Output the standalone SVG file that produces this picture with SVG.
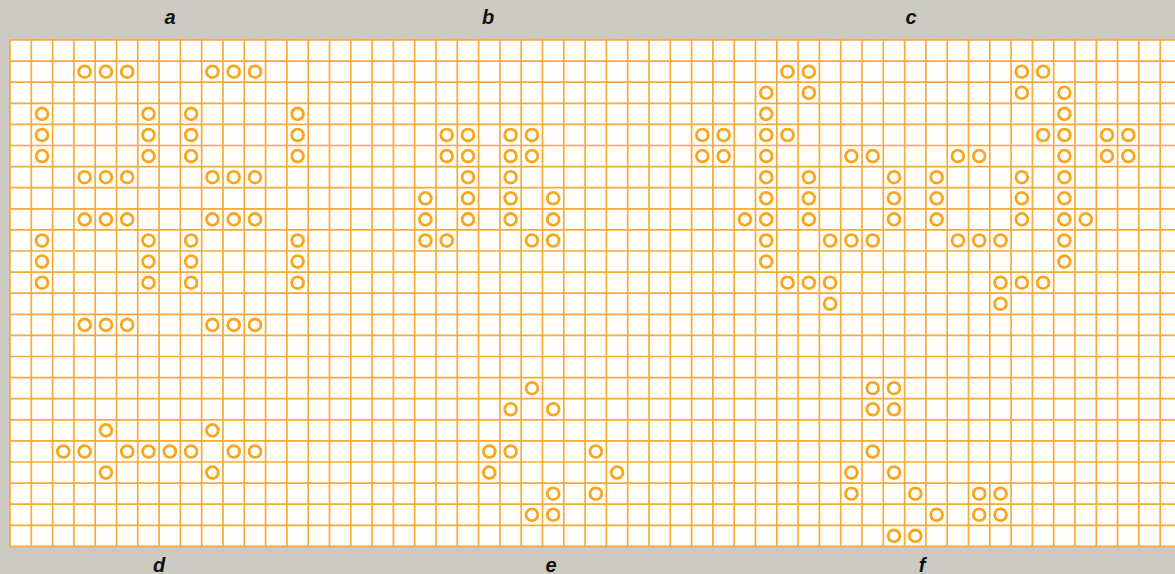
<svg xmlns="http://www.w3.org/2000/svg" xmlns:xlink="http://www.w3.org/1999/xlink" width="1175" height="574" viewBox="0 0 1175 574">
<style>
.grid{fill:none;stroke:#f6aa3c;stroke-width:1.7}
.cell{fill:none;stroke:#f9a61e;stroke-width:2.8}
.lbl{font-family:"Liberation Sans",Arial,sans-serif;font-weight:bold;font-style:italic;font-size:20px;fill:#111;text-anchor:middle}
</style>
<defs>
<circle id="o" class="cell" cx="0" cy="0" r="5.9"/>
<filter id="grain" x="0" y="0" width="100%" height="100%">
<feTurbulence type="fractalNoise" baseFrequency="0.9" numOctaves="2" seed="3" result="n"/>
<feColorMatrix in="n" type="matrix" values="0 0 0 0 0.70  0 0 0 0 0.69  0 0 0 0 0.64  0 0 0 0.6 0"/>
</filter>
</defs>
<rect id="background" x="0" y="0" width="1175" height="574" fill="#c8c6bd"/>
<rect x="0" y="0" width="1175" height="574" filter="url(#grain)" opacity="0.7"/>
<g id="board">
<rect x="10" y="40" width="1165" height="506.4" fill="#fffefa"/>
<path class="grid" d="M10 40V546.4M31.3 40V546.4M52.6 40V546.4M73.9 40V546.4M95.2 40V546.4M116.5 40V546.4M137.8 40V546.4M159.1 40V546.4M180.4 40V546.4M201.7 40V546.4M223 40V546.4M244.3 40V546.4M265.6 40V546.4M286.9 40V546.4M308.2 40V546.4M329.5 40V546.4M350.8 40V546.4M372.1 40V546.4M393.4 40V546.4M414.7 40V546.4M436 40V546.4M457.3 40V546.4M478.6 40V546.4M499.9 40V546.4M521.2 40V546.4M542.5 40V546.4M563.8 40V546.4M585.1 40V546.4M606.4 40V546.4M627.7 40V546.4M649 40V546.4M670.3 40V546.4M691.6 40V546.4M712.9 40V546.4M734.2 40V546.4M755.5 40V546.4M776.8 40V546.4M798.1 40V546.4M819.4 40V546.4M840.7 40V546.4M862 40V546.4M883.3 40V546.4M904.6 40V546.4M925.9 40V546.4M947.2 40V546.4M968.5 40V546.4M989.8 40V546.4M1011.1 40V546.4M1032.4 40V546.4M1053.7 40V546.4M1075 40V546.4M1096.3 40V546.4M1117.6 40V546.4M1138.9 40V546.4M1160.2 40V546.4"/>
<path class="grid" d="M10 40H1175M10 61.1H1175M10 82.2H1175M10 103.3H1175M10 124.4H1175M10 145.5H1175M10 166.6H1175M10 187.7H1175M10 208.8H1175M10 229.9H1175M10 251H1175M10 272.1H1175M10 293.2H1175M10 314.3H1175M10 335.4H1175M10 356.5H1175M10 377.6H1175M10 398.7H1175M10 419.8H1175M10 440.9H1175M10 462H1175M10 483.1H1175M10 504.2H1175M10 525.3H1175M10 546.4H1175"/>
</g>
<g id="pattern-a">
<use xlink:href="#o" x="84.6" y="71.7"/><use xlink:href="#o" x="105.9" y="71.7"/><use xlink:href="#o" x="127.2" y="71.7"/>
<use xlink:href="#o" x="212.4" y="71.7"/><use xlink:href="#o" x="233.7" y="71.7"/><use xlink:href="#o" x="255" y="71.7"/>
<use xlink:href="#o" x="42" y="113.9"/><use xlink:href="#o" x="148.5" y="113.9"/><use xlink:href="#o" x="191.1" y="113.9"/><use xlink:href="#o" x="297.6" y="113.9"/>
<use xlink:href="#o" x="42" y="135"/><use xlink:href="#o" x="148.5" y="135"/><use xlink:href="#o" x="191.1" y="135"/><use xlink:href="#o" x="297.6" y="135"/>
<use xlink:href="#o" x="42" y="156.1"/><use xlink:href="#o" x="148.5" y="156.1"/><use xlink:href="#o" x="191.1" y="156.1"/><use xlink:href="#o" x="297.6" y="156.1"/>
<use xlink:href="#o" x="84.6" y="177.2"/><use xlink:href="#o" x="105.9" y="177.2"/><use xlink:href="#o" x="127.2" y="177.2"/>
<use xlink:href="#o" x="212.4" y="177.2"/><use xlink:href="#o" x="233.7" y="177.2"/><use xlink:href="#o" x="255" y="177.2"/>
<use xlink:href="#o" x="84.6" y="219.4"/><use xlink:href="#o" x="105.9" y="219.4"/><use xlink:href="#o" x="127.2" y="219.4"/>
<use xlink:href="#o" x="212.4" y="219.4"/><use xlink:href="#o" x="233.7" y="219.4"/><use xlink:href="#o" x="255" y="219.4"/>
<use xlink:href="#o" x="42" y="240.5"/><use xlink:href="#o" x="148.5" y="240.5"/><use xlink:href="#o" x="191.1" y="240.5"/><use xlink:href="#o" x="297.6" y="240.5"/>
<use xlink:href="#o" x="42" y="261.6"/><use xlink:href="#o" x="148.5" y="261.6"/><use xlink:href="#o" x="191.1" y="261.6"/><use xlink:href="#o" x="297.6" y="261.6"/>
<use xlink:href="#o" x="42" y="282.7"/><use xlink:href="#o" x="148.5" y="282.7"/><use xlink:href="#o" x="191.1" y="282.7"/><use xlink:href="#o" x="297.6" y="282.7"/>
<use xlink:href="#o" x="84.6" y="324.9"/><use xlink:href="#o" x="105.9" y="324.9"/><use xlink:href="#o" x="127.2" y="324.9"/>
<use xlink:href="#o" x="212.4" y="324.9"/><use xlink:href="#o" x="233.7" y="324.9"/><use xlink:href="#o" x="255" y="324.9"/>
</g>
<g id="pattern-b">
<use xlink:href="#o" x="446.7" y="135"/><use xlink:href="#o" x="468" y="135"/><use xlink:href="#o" x="510.6" y="135"/><use xlink:href="#o" x="531.9" y="135"/>
<use xlink:href="#o" x="446.7" y="156.1"/><use xlink:href="#o" x="468" y="156.1"/><use xlink:href="#o" x="510.6" y="156.1"/><use xlink:href="#o" x="531.9" y="156.1"/>
<use xlink:href="#o" x="468" y="177.2"/><use xlink:href="#o" x="510.6" y="177.2"/>
<use xlink:href="#o" x="425.4" y="198.3"/><use xlink:href="#o" x="468" y="198.3"/><use xlink:href="#o" x="510.6" y="198.3"/><use xlink:href="#o" x="553.2" y="198.3"/>
<use xlink:href="#o" x="425.4" y="219.4"/><use xlink:href="#o" x="468" y="219.4"/><use xlink:href="#o" x="510.6" y="219.4"/><use xlink:href="#o" x="553.2" y="219.4"/>
<use xlink:href="#o" x="425.4" y="240.5"/><use xlink:href="#o" x="446.7" y="240.5"/><use xlink:href="#o" x="531.9" y="240.5"/><use xlink:href="#o" x="553.2" y="240.5"/>
</g>
<g id="pattern-c">
<use xlink:href="#o" x="787.5" y="71.7"/><use xlink:href="#o" x="808.8" y="71.7"/><use xlink:href="#o" x="1021.8" y="71.7"/><use xlink:href="#o" x="1043.1" y="71.7"/>
<use xlink:href="#o" x="766.2" y="92.8"/><use xlink:href="#o" x="808.8" y="92.8"/><use xlink:href="#o" x="1021.8" y="92.8"/><use xlink:href="#o" x="1064.4" y="92.8"/>
<use xlink:href="#o" x="766.2" y="113.9"/><use xlink:href="#o" x="1064.4" y="113.9"/>
<use xlink:href="#o" x="702.3" y="135"/><use xlink:href="#o" x="723.6" y="135"/><use xlink:href="#o" x="766.2" y="135"/><use xlink:href="#o" x="787.5" y="135"/>
<use xlink:href="#o" x="1043.1" y="135"/><use xlink:href="#o" x="1064.4" y="135"/><use xlink:href="#o" x="1107" y="135"/><use xlink:href="#o" x="1128.3" y="135"/>
<use xlink:href="#o" x="702.3" y="156.1"/><use xlink:href="#o" x="723.6" y="156.1"/><use xlink:href="#o" x="766.2" y="156.1"/><use xlink:href="#o" x="851.4" y="156.1"/><use xlink:href="#o" x="872.7" y="156.1"/>
<use xlink:href="#o" x="957.9" y="156.1"/><use xlink:href="#o" x="979.2" y="156.1"/><use xlink:href="#o" x="1064.4" y="156.1"/><use xlink:href="#o" x="1107" y="156.1"/><use xlink:href="#o" x="1128.3" y="156.1"/>
<use xlink:href="#o" x="766.2" y="177.2"/><use xlink:href="#o" x="808.8" y="177.2"/><use xlink:href="#o" x="894" y="177.2"/><use xlink:href="#o" x="936.6" y="177.2"/><use xlink:href="#o" x="1021.8" y="177.2"/><use xlink:href="#o" x="1064.4" y="177.2"/>
<use xlink:href="#o" x="766.2" y="198.3"/><use xlink:href="#o" x="808.8" y="198.3"/><use xlink:href="#o" x="894" y="198.3"/><use xlink:href="#o" x="936.6" y="198.3"/><use xlink:href="#o" x="1021.8" y="198.3"/><use xlink:href="#o" x="1064.4" y="198.3"/>
<use xlink:href="#o" x="744.9" y="219.4"/><use xlink:href="#o" x="766.2" y="219.4"/><use xlink:href="#o" x="808.8" y="219.4"/><use xlink:href="#o" x="894" y="219.4"/><use xlink:href="#o" x="936.6" y="219.4"/><use xlink:href="#o" x="1021.8" y="219.4"/><use xlink:href="#o" x="1064.4" y="219.4"/><use xlink:href="#o" x="1085.7" y="219.4"/>
<use xlink:href="#o" x="766.2" y="240.5"/><use xlink:href="#o" x="830.1" y="240.5"/><use xlink:href="#o" x="851.4" y="240.5"/><use xlink:href="#o" x="872.7" y="240.5"/><use xlink:href="#o" x="957.9" y="240.5"/><use xlink:href="#o" x="979.2" y="240.5"/><use xlink:href="#o" x="1000.5" y="240.5"/><use xlink:href="#o" x="1064.4" y="240.5"/>
<use xlink:href="#o" x="766.2" y="261.6"/><use xlink:href="#o" x="1064.4" y="261.6"/>
<use xlink:href="#o" x="787.5" y="282.7"/><use xlink:href="#o" x="808.8" y="282.7"/><use xlink:href="#o" x="830.1" y="282.7"/><use xlink:href="#o" x="1000.5" y="282.7"/><use xlink:href="#o" x="1021.8" y="282.7"/><use xlink:href="#o" x="1043.1" y="282.7"/>
<use xlink:href="#o" x="830.1" y="303.8"/><use xlink:href="#o" x="1000.5" y="303.8"/>
</g>
<g id="pattern-d">
<use xlink:href="#o" x="105.9" y="430.4"/><use xlink:href="#o" x="212.4" y="430.4"/>
<use xlink:href="#o" x="63.3" y="451.5"/><use xlink:href="#o" x="84.6" y="451.5"/><use xlink:href="#o" x="127.2" y="451.5"/><use xlink:href="#o" x="148.5" y="451.5"/><use xlink:href="#o" x="169.8" y="451.5"/><use xlink:href="#o" x="191.1" y="451.5"/><use xlink:href="#o" x="233.7" y="451.5"/><use xlink:href="#o" x="255" y="451.5"/>
<use xlink:href="#o" x="105.9" y="472.6"/><use xlink:href="#o" x="212.4" y="472.6"/>
</g>
<g id="pattern-e">
<use xlink:href="#o" x="531.9" y="388.2"/>
<use xlink:href="#o" x="510.6" y="409.3"/><use xlink:href="#o" x="553.2" y="409.3"/>
<use xlink:href="#o" x="489.3" y="451.5"/><use xlink:href="#o" x="510.6" y="451.5"/><use xlink:href="#o" x="595.8" y="451.5"/>
<use xlink:href="#o" x="489.3" y="472.6"/><use xlink:href="#o" x="617.1" y="472.6"/>
<use xlink:href="#o" x="553.2" y="493.7"/><use xlink:href="#o" x="595.8" y="493.7"/>
<use xlink:href="#o" x="531.9" y="514.8"/><use xlink:href="#o" x="553.2" y="514.8"/>
</g>
<g id="pattern-f">
<use xlink:href="#o" x="872.7" y="388.2"/><use xlink:href="#o" x="894" y="388.2"/>
<use xlink:href="#o" x="872.7" y="409.3"/><use xlink:href="#o" x="894" y="409.3"/>
<use xlink:href="#o" x="872.7" y="451.5"/>
<use xlink:href="#o" x="851.4" y="472.6"/><use xlink:href="#o" x="894" y="472.6"/>
<use xlink:href="#o" x="851.4" y="493.7"/><use xlink:href="#o" x="915.3" y="493.7"/><use xlink:href="#o" x="979.2" y="493.7"/><use xlink:href="#o" x="1000.5" y="493.7"/>
<use xlink:href="#o" x="936.6" y="514.8"/><use xlink:href="#o" x="979.2" y="514.8"/><use xlink:href="#o" x="1000.5" y="514.8"/>
<use xlink:href="#o" x="894" y="535.9"/><use xlink:href="#o" x="915.3" y="535.9"/>
</g>
<g id="labels">
<text class="lbl" x="170" y="24">a</text>
<text class="lbl" x="488" y="24">b</text>
<text class="lbl" x="911" y="24">c</text>
<text class="lbl" x="159" y="572">d</text>
<text class="lbl" x="551" y="572">e</text>
<text class="lbl" x="922" y="572">f</text>
</g>
</svg>
